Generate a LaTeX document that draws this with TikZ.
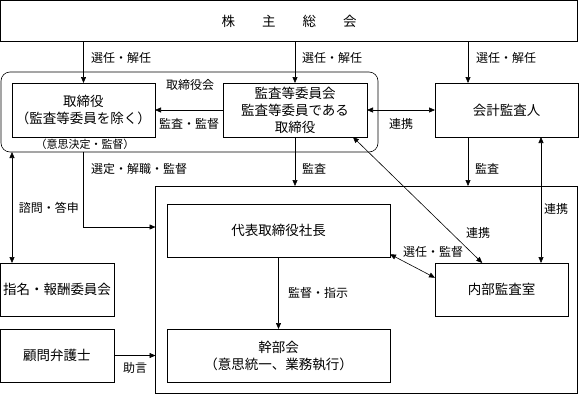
\documentclass[tikz,border=0pt]{standalone}
\usepackage{fontspec}
\setmainfont{Noto Sans CJK JP}
\usetikzlibrary{arrows.meta}
\tikzset{
  box/.style = {draw, inner sep = 0pt, outer sep = 0pt, align = center, font = \fontsize{13.5}{17}\selectfont},
  lab/.style = {inner sep = 1pt, font = \fontsize{12}{14}\selectfont},
  >={Triangle[length=6pt, width=5pt]}
}

\begin{document}
\begin{tikzpicture}[x = 1pt, y = -1pt, line width = 0.6pt]
\useasboundingbox (0,0) rectangle (579,394);
% boxes
\node[box, minimum width = 577pt, minimum height = 41pt] (soukai) at (289,21) {株\hspace{2em}主\hspace{2em}総\hspace{2em}会};
\node[box, rounded corners = 9pt, minimum width = 377pt, minimum height = 80pt] (board) at (189.5,112) {};
\node[box, minimum width = 422pt, minimum height = 207pt] (exec) at (366.5,289.5) {};
\node[box, minimum width = 143pt, minimum height = 54pt] (tori) at (83.5,110) {取締役\\（監査等委員を除く）};
\node[box, minimum width = 144pt, minimum height = 54pt] (kansa) at (295,110) {監査等委員会\\監査等委員である\\取締役};
\node[box, minimum width = 143pt, minimum height = 54pt] (kaikei) at (506.5,110) {会計監査人};
\node[box, minimum width = 223pt, minimum height = 53pt] (daihyo) at (278.5,230.5) {代表取締役社長};
\node[box, minimum width = 133pt, minimum height = 53pt] (naibu) at (501.5,289.5) {内部監査室};
\node[box, minimum width = 223pt, minimum height = 53pt] (kanbu) at (278.5,355.5) {幹部会\\（意思統一、業務執行）};
\node[box, minimum width = 114pt, minimum height = 53pt] (shimei) at (57,289.5) {指名・報酬委員会};
\node[box, minimum width = 114pt, minimum height = 53pt] (komon) at (57,355.5) {顧問弁護士};
% arrows
\draw[->] (soukai.south -| tori) -- (tori.north);
\draw[->] (soukai.south -| kansa) -- (kansa.north);
\draw[->] (soukai.south -| 468,0) -- (kaikei.north -| 468,0);
\draw[->] (kansa.west) -- (tori.east);
\draw[<->] (kansa.east) -- (kaikei.west);
\draw[->] (kansa.south) -- (kansa.south |- exec.north);
\draw[->] (kaikei.south -| 468,0) -- (exec.north -| 468,0);
\draw[<->] (kansa.-25) -- (naibu.126);
\draw[<->] (kaikei.south -| 541,0) -- (naibu.north -| 541,0);
\draw[<->] (board.south -| 12,0) -- (shimei.north -| 12,0);
\draw[->] (board.south -| tori) |- (exec.west |- 0,227);
\draw[<->] (daihyo.-12) -- (naibu.170);
\draw[->] (daihyo.south) -- (kanbu.north);
\draw[->] (komon.east) -- (komon.east -| exec.west);
% labels
\node[lab] (sel1) at (121,58) {選任・解任};
\node[lab] (sel2) at (332,58) {選任・解任};
\node[lab] (sel3) at (506,58) {選任・解任};
\node[lab] (boardlab) at (190,85) {取締役会};
\node[lab] (kansalab) at (189,124) {監査・監督};
\node[lab, font = \fontsize{11}{12}\selectfont] (ishi) at (85,144) {（意思決定・監督）};
\node[lab] (renkei1) at (401,124) {連携};
\node[lab] (sentei) at (139,169) {選定・解職・監督};
\node[lab] (kansa1) at (314,169) {監査};
\node[lab] (kansa2) at (487,169) {監査};
\node[lab] (shimon) at (49,208) {諮問・答申};
\node[lab] (renkei2) at (556,209) {連携};
\node[lab] (renkei3) at (478,233) {連携};
\node[lab] (senkan) at (433,252) {選任・監督};
\node[lab] (shiji) at (318,293) {監督・指示};
\node[lab] (jogen) at (135,368) {助言};
\end{tikzpicture}
\end{document}
